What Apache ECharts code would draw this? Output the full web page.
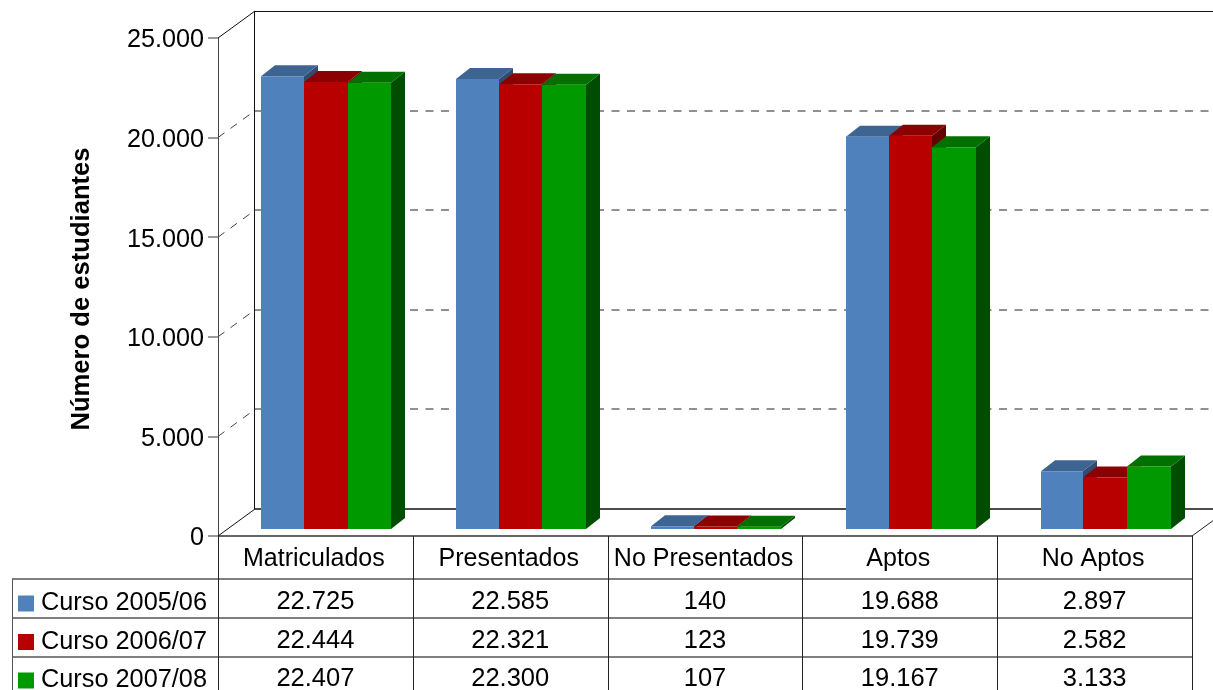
<!DOCTYPE html>
<html>
<head>
<meta charset="utf-8">
<title>Estudiantes por curso</title>
<style>
    html, body { margin: 0; padding: 0; background: #fff; }
    #chart { width: 1213px; height: 690px; }
</style>
<script src="https://cdn.jsdelivr.net/npm/echarts@6/dist/echarts.min.js"></script>
</head>
<body>
<div id="chart"></div>
<script>
    const categories = ['Matriculados', 'Presentados', 'No Presentados', 'Aptos', 'No Aptos'];
    const curso0506 = [22725, 22585, 140, 19688, 2897];
    const curso0607 = [22444, 22321, 123, 19739, 2582];
    const curso0708 = [22407, 22300, 107, 19167, 3133];
    const yTicks = [0, 5000, 10000, 15000, 20000, 25000];

    const FONT = '"Liberation Sans", Arial, sans-serif';
    const fmt = v => String(v).replace(/\B(?=(\d{3})+$)/g, '.');

    // front, top, side
    const shades = [
        ['#4f81bd', '#3e6491', '#2f4d70'],
        ['#b80000', '#8b0000', '#660000'],
        ['#009900', '#007000', '#004c00']
    ];
    // bar edges in px from the shifted band centre
    const barEdges = [-65, -22.3, 21.2, 65];

    const chartDom = document.getElementById('chart');
    const myChart = echarts.init(chartDom);

    // fake 3d: wall is pushed back by (37,-27), bars sit at (11,-7) with depth (14,-11)
    function renderBar(s, params, api) {
        const cat = api.value(0);
        const top = api.coord([cat, api.value(1)]);
        const base = api.coord([cat, 0]);
        const x0 = Math.round(top[0] + 11 + barEdges[s]);
        const x1 = Math.round(top[0] + 11 + barEdges[s + 1]);
        const y0 = top[1] - 7;
        const y1 = base[1] - 7;
        const dx = 14, dy = -11;
        const c = shades[s];
        return {
            type: 'group',
            children: [
                { type: 'polygon', shape: { points: [[x1, y0], [x1 + dx, y0 + dy], [x1 + dx, y1 + dy], [x1, y1]] }, style: { fill: c[2] } },
                { type: 'polygon', shape: { points: [[x0, y0], [x0 + dx, y0 + dy], [x1 + dx, y0 + dy], [x1, y0]] }, style: { fill: c[1] } },
                { type: 'rect', shape: { x: x0, y: y0, width: x1 - x0, height: y1 - y0 }, style: { fill: c[0] } }
            ]
        };
    }

    function renderWall(params, api) {
        const v = api.value(0);
        const p = api.coord([0, v]);
        const x = p[0] - api.size([1, 0])[0] / 2;
        const edge = v === 0 || v === 25000;
        const diag = { stroke: edge ? '#111' : '#444', lineWidth: 1, lineDash: edge ? null : [8, 7.5] };
        const back = edge
            ? { stroke: '#111', lineWidth: v === 0 ? 1.5 : 1 }
            : { stroke: '#222', lineWidth: 1, lineDash: [8, 7.5] };
        const by = Math.round(p[1] - 27) + (v === 25000 ? 0.5 : 0);
        const children = [
            { type: 'line', shape: { x1: x, y1: p[1], x2: x + 37, y2: p[1] - 27 }, style: diag },
            { type: 'line', shape: { x1: x + 37, y1: by, x2: api.getWidth(), y2: by }, style: back }
        ];
        if (v === 25000) {
            const b = api.coord([0, 0]);
            const wx = Math.round(x + 37) - 0.5;
            children.push({ type: 'line', shape: { x1: wx, y1: p[1] - 27, x2: wx, y2: b[1] - 27 }, style: { stroke: '#111', lineWidth: 1 } });
        }
        if (v === 0) {
            const r = api.coord([categories.length - 1, 0]);
            const rx = r[0] + api.size([1, 0])[0] / 2;
            children.push({ type: 'line', shape: { x1: rx, y1: p[1], x2: rx + 37, y2: p[1] - 27 }, style: { stroke: '#222', lineWidth: 1 } });
        }
        return { type: 'group', children: children };
    }

    const rowLines = [579, 618, 657];
    const rowMids = [601.5, 641, 679];

    function renderTableLines(params, api) {
        const band = api.size([1, 0])[0];
        const first = api.coord([0, 0]);
        const left = first[0] - band / 2;
        const right = left + band * categories.length;
        const children = [];
        rowLines.forEach(y => {
            children.push({ type: 'line', shape: { x1: 12, y1: y, x2: right, y2: y }, style: { stroke: '#555', lineWidth: 1.5 } });
        });
        children.push({ type: 'line', shape: { x1: 12.5, y1: 579, x2: 12.5, y2: api.getHeight() }, style: { stroke: '#555', lineWidth: 1 } });
        for (let i = 0; i <= categories.length; i++) {
            const x = Math.round(left + band * i) + 0.5;
            children.push({ type: 'line', shape: { x1: x, y1: first[1], x2: x, y2: api.getHeight() }, style: { stroke: '#222', lineWidth: 1 } });
        }
        return { type: 'group', children: children };
    }

    function renderCell(params, api) {
        const p = api.coord([api.value(0), 0]);
        return {
            type: 'text',
            style: {
                text: fmt(api.value(2)),
                x: p[0],
                y: rowMids[api.value(1)],
                align: 'center',
                verticalAlign: 'middle',
                fontFamily: FONT,
                fontSize: 25.5,
                fill: '#000'
            }
        };
    }

    const rows = [curso0506, curso0607, curso0708];
    const names = ['Curso 2005/06', 'Curso 2006/07', 'Curso 2007/08'];
    const cells = [];
    rows.forEach((row, r) => row.forEach((v, c) => cells.push([c, r, v])));

    const option = {
        animation: false,
        backgroundColor: '#fff',
        textStyle: { fontFamily: FONT },
        grid: { left: 218, top: 38, width: 974, height: 498 },
        legend: {
            orient: 'vertical',
            left: 18,
            top: 591,
            height: 130,
            itemWidth: 16,
            itemHeight: 16,
            itemGap: 13.5,
            padding: 0,
            icon: 'rect',
            selectedMode: false,
            textStyle: { fontFamily: FONT, fontSize: 25.3, color: '#000', padding: [0, 0, 0, 2] },
            data: names
        },
        xAxis: {
            type: 'category',
            data: categories,
            axisTick: { show: false },
            axisLine: { lineStyle: { color: '#333', width: 1.5 } },
            axisLabel: { color: '#000', fontSize: 25, margin: 11, interval: 0, padding: [0, 3, 0, 0] }
        },
        yAxis: {
            type: 'value',
            min: 0,
            max: 25000,
            interval: 5000,
            name: 'Número de estudiantes',
            nameLocation: 'middle',
            nameGap: 123,
            nameTextStyle: { color: '#000', fontSize: 25.6, fontWeight: 'bold', fontFamily: FONT, padding: [0, 4, 0, 0] },
            axisLine: { show: true, lineStyle: { color: '#444', width: 1 } },
            axisTick: { show: true, length: 10, lineStyle: { color: '#999', width: 2 } },
            axisLabel: {
                margin: 14,
                formatter: v => '{n|' + fmt(v) + '}',
                rich: { n: { color: '#000', fontSize: 25.2, fontFamily: FONT, padding: [5, 0, 0, 0] } }
            },
            splitLine: { show: false }
        },
        series: [
            { type: 'custom', silent: true, z: 1, data: yTicks.map(v => [v]), encode: { y: 0 }, renderItem: renderWall },
            { type: 'custom', silent: true, z: 1, data: [[0]], encode: { x: 0 }, renderItem: renderTableLines },
            { type: 'custom', silent: true, z: 3, data: cells, encode: { x: 0 }, renderItem: renderCell }
        ].concat(rows.map((row, s) => ({
            type: 'custom',
            name: names[s],
            z: 2,
            itemStyle: { color: shades[s][0] },
            data: row.map((v, c) => [c, v]),
            encode: { x: 0, y: 1 },
            renderItem: (params, api) => renderBar(s, params, api)
        })))
    };

    option && myChart.setOption(option);
    window.addEventListener('resize', () => {
        myChart.resize()
    })
</script>
</body>
</html>
